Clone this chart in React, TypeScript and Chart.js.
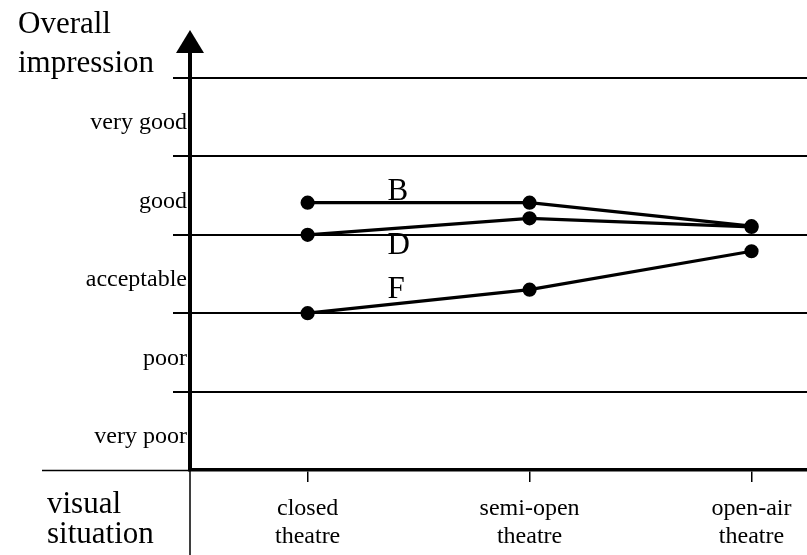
import React, { useEffect, useRef } from "react";
import { Chart, registerables } from "chart.js";

Chart.register(...registerables);

const categories = ["closed theatre", "semi-open theatre", "open-air theatre"];
const categoryLines = [
  ["closed", "theatre"],
  ["semi-open", "theatre"],
  ["open-air", "theatre"],
];
const ratingLabels = ["very poor", "poor", "acceptable", "good", "very good"];
const seriesNames = ["B", "D", "F"];
const seriesB = [3.41, 3.41, 3.11];
const seriesD = [3.0, 3.21, 3.1];
const seriesF = [2.0, 2.3, 2.79];
const yTickValues = [0, 0.5, 1, 1.5, 2, 2.5, 3, 3.5, 4, 4.5, 5];

const SERIF = "'Liberation Serif', 'Times New Roman', serif";

const decorPlugin = {
  id: "decor",
  afterDraw(chart: any) {
    const ctx = chart.ctx;
    const { left, top, bottom } = chart.chartArea;
    const xs = chart.scales.x;
    const ys = chart.scales.y;
    ctx.save();
    ctx.fillStyle = "#000";
    ctx.strokeStyle = "#000";
    // axis extension + arrow head
    ctx.fillRect(left - 2, 50, 4, top - 50);
    ctx.beginPath();
    ctx.moveTo(left, 30);
    ctx.lineTo(left - 14, 53);
    ctx.lineTo(left + 14, 53);
    ctx.closePath();
    ctx.fill();
    // thin lines outside plot
    ctx.lineWidth = 1.5;
    ctx.beginPath();
    ctx.moveTo(42, bottom + 0.5);
    ctx.lineTo(left, bottom + 0.5);
    ctx.moveTo(left, bottom);
    ctx.lineTo(left, chart.height);
    ctx.stroke();
    // titles
    ctx.font = `31px ${SERIF}`;
    ctx.textAlign = "left";
    ctx.textBaseline = "alphabetic";
    ctx.fillText("Overall", 18, 33);
    ctx.fillText("impression", 18, 72);
    ctx.fillText("visual", 47, 513);
    ctx.fillText("situation", 47, 543);
    // series letters
    ctx.font = `31px ${SERIF}`;
    const letterX = xs.getPixelForValue(0.36);
    const letterY = [3.44, 2.755, 2.19];
    seriesNames.forEach((n, i) => {
      ctx.fillText(n, letterX, ys.getPixelForValue(letterY[i]));
    });
    ctx.restore();
  },
};

function makeData(vals: number[]) {
  return vals.map((v, i) => ({ x: i, y: v }));
}

export default function App() {
  const ref = useRef<HTMLCanvasElement>(null);
  useEffect(() => {
    if (!ref.current) return;
    const all = [seriesB, seriesD, seriesF];
    const chart = new Chart(ref.current, {
      type: "line",
      data: {
        datasets: all.map((s, i) => ({
          label: seriesNames[i],
          data: makeData(s),
          borderColor: "#000",
          backgroundColor: "#000",
          borderWidth: 3.2,
          pointRadius: 5.5,
          pointBackgroundColor: "#000",
          pointBorderColor: "#000",
          tension: 0,
        })),
      },
      options: {
        animation: false,
        responsive: false,
        layout: { autoPadding: false, padding: { top: 78, left: 0, right: 0, bottom: 0 } },
        plugins: {
          legend: { display: false },
          tooltip: { enabled: false },
          title: { display: false },
        },
        scales: {
          x: {
            type: "linear",
            min: -0.53,
            max: 2.25,
            afterBuildTicks: (scale: any) => {
              scale.ticks = categories.map((_, i) => ({ value: i }));
            },
            afterFit: (scale: any) => {
              scale.height = 85;
              scale.paddingLeft = 0;
              scale.paddingRight = 0;
            },
            grid: {
              display: true,
              drawOnChartArea: false,
              drawTicks: true,
              tickLength: 12,
              color: "#000",
              lineWidth: 1.5,
            },
            border: { display: true, color: "#000", width: 3.5 },
            ticks: {
              color: "#000",
              font: { family: SERIF, size: 24, lineHeight: 1.17 },
              padding: 13,
              maxRotation: 0,
              autoSkip: false,
              callback: (v: any) => categoryLines[Math.round(Number(v))] ?? "",
            },
          },
          y: {
            type: "linear",
            min: 0,
            max: 5,
            afterBuildTicks: (scale: any) => {
              scale.ticks = yTickValues.map((v) => ({ value: v }));
            },
            afterFit: (scale: any) => {
              scale.width = 190;
              scale.paddingTop = 0;
              scale.paddingBottom = 0;
            },
            grid: {
              display: true,
              drawOnChartArea: true,
              drawTicks: true,
              tickLength: 17,
              lineWidth: 2,
              color: (c: any) =>
                c.tick && Number.isInteger(c.tick.value) && c.tick.value > 0 ? "#000" : "rgba(0,0,0,0)",
            },
            border: { display: true, color: "#000", width: 4 },
            ticks: {
              color: "#000",
              font: { family: SERIF, size: 24 },
              padding: -14,
              labelOffset: 6,
              autoSkip: false,
              callback: (v: any) => {
                const n = Number(v);
                if (Number.isInteger(n)) return "";
                return ratingLabels[Math.floor(n)] ?? "";
              },
            },
          },
        },
      },
      plugins: [decorPlugin],
    } as any);
    return () => chart.destroy();
  }, []);
  return (
    <div style={{ position: "absolute", left: 0, top: 0, width: 807, height: 555, background: "#fff" }}>
      <canvas ref={ref} width={807} height={555} style={{ display: "block" }} />
    </div>
  );
}
